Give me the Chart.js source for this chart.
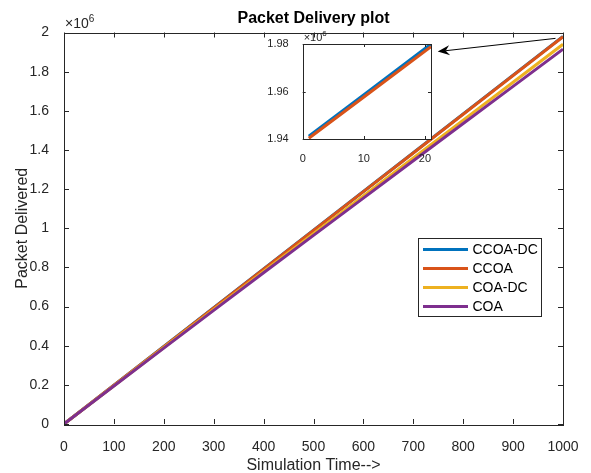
<!DOCTYPE html>
<html>
<head>
<meta charset="utf-8">
<script src="https://cdn.jsdelivr.net/npm/chart.js@4"></script>
<style>
 body { margin: 0; background: #fff; }
 #wrap { position: relative; width: 591px; height: 473px; }
 #mainChart { position: absolute; left: 0; top: 0; }
 #insetChart { position: absolute; left: 260px; top: 28px; }
</style>
</head>
<body>
<div id="wrap">
 <canvas id="mainChart" width="591" height="473"></canvas>
 <canvas id="insetChart" width="180" height="135"></canvas>
</div>
<script>
// main plot data (simulation time vs packets delivered)
var simTime = [0, 100, 200, 300, 400, 500, 600, 700, 800, 900, 1000];
var ccoaDc = [0, 198000, 396000, 594000, 792000, 990000, 1188000, 1386000, 1584000, 1782000, 1980000];
var ccoa = [0, 197800, 395600, 593400, 791200, 989000, 1186800, 1384600, 1582400, 1780200, 1978000];
var coaDc = [0, 195500, 390500, 585000, 779000, 972500, 1165500, 1359000, 1552500, 1746000, 1940000];
var coa = [0, 194000, 387500, 580500, 772500, 963500, 1154000, 1344500, 1535000, 1725000, 1915000];
var seriesNames = ["CCOA-DC", "CCOA", "COA-DC", "COA"];

// zoomed inset data
var insetX = [1, 11, 21];
var insetCcoaDc = [1941200, 1960600, 1980000];
var insetCcoa = [1940300, 1959600, 1978900];

var colors = ["#0072BD", "#D95319", "#EDB120", "#7E2F8E"];
var axisColor = "#262626";
var fontName = "'Liberation Sans', Arial, Helvetica, sans-serif";

function toPoints(xs, ys) {
 return xs.map(function (x, i) {
  return { x: x, y: ys[i] };
 });
}

// MATLAB style box with inward ticks on all four sides
function boxPlugin(tickLen, lineW) {
 return {
  id: "matlabBox",
  beforeDraw: function (chart) {
   var a = chart.chartArea;
   var ctx = chart.ctx;
   ctx.save();
   ctx.fillStyle = "#fff";
   ctx.fillRect(a.left, a.top, a.right - a.left, a.bottom - a.top);
   ctx.restore();
  },
  afterDatasetsDraw: function (chart) {
   var a = chart.chartArea;
   var ctx = chart.ctx;
   var xs = chart.scales.x;
   var ys = chart.scales.y;
   ctx.save();
   ctx.strokeStyle = axisColor;
   ctx.lineWidth = lineW;
   ctx.beginPath();
   xs.ticks.forEach(function (t) {
    var px = Math.round(xs.getPixelForValue(t.value)) + 0.5;
    ctx.moveTo(px, a.bottom);
    ctx.lineTo(px, a.bottom - tickLen);
    ctx.moveTo(px, a.top);
    ctx.lineTo(px, a.top + tickLen);
   });
   ys.ticks.forEach(function (t) {
    var py = Math.round(ys.getPixelForValue(t.value)) + 0.5;
    ctx.moveTo(a.left, py);
    ctx.lineTo(a.left + tickLen, py);
    ctx.moveTo(a.right, py);
    ctx.lineTo(a.right - tickLen, py);
   });
   ctx.stroke();
   ctx.strokeRect(Math.round(a.left) + 0.5, Math.round(a.top) + 0.5,
    Math.round(a.right - a.left), Math.round(a.bottom - a.top));
   ctx.restore();
  },
 };
}

function drawExponent(ctx, x, y, size) {
 ctx.save();
 ctx.fillStyle = axisColor;
 ctx.textBaseline = "alphabetic";
 ctx.textAlign = "left";
 ctx.font = size + "px " + fontName;
 ctx.fillText("\u00d710", x, y);
 var w = ctx.measureText("\u00d710").width;
 ctx.font = Math.round(size * 0.7) + "px " + fontName;
 ctx.fillText("6", x + w, y - size * 0.45);
 ctx.restore();
}

// ---------------- inset ----------------
var insetCanvas = document.querySelector("#insetChart");
var insetChart = new Chart(insetCanvas, {
 type: "line",
 data: {
  datasets: [
   { label: seriesNames[0], data: toPoints(insetX, insetCcoaDc), borderColor: colors[0], order: 1 },
   { label: seriesNames[1], data: toPoints(insetX, insetCcoa), borderColor: colors[1], order: 0 },
  ],
 },
 options: {
  responsive: false,
  animation: false,
  events: [],
  layout: { padding: { left: 0, top: 16, right: 9, bottom: 0 } },
  elements: {
   line: { borderWidth: 3, tension: 0, borderCapStyle: "butt" },
   point: { radius: 0 },
  },
  plugins: { legend: { display: false }, title: { display: false }, tooltip: { enabled: false } },
  scales: {
   x: {
    type: "linear",
    min: 0,
    max: 21,
    grid: { display: false },
    border: { display: false },
    ticks: { stepSize: 10, includeBounds: false, padding: 5, color: axisColor, maxRotation: 0,
     font: { family: fontName, size: 11 },
     callback: function (v) { return String(v); } },
    afterFit: function (s) { s.height = 24; s.paddingLeft = 0; s.paddingRight = 0; },
   },
   y: {
    min: 1940000,
    max: 1980000,
    grid: { display: false },
    border: { display: false },
    ticks: { stepSize: 20000, padding: 6, color: axisColor,
     font: { family: fontName, size: 11 },
     callback: function (v) { return (v / 1e6).toFixed(2); } },
    afterFit: function (s) { s.width = 42.7; s.paddingTop = 0; s.paddingBottom = 0; },
   },
  },
 },
 plugins: [
  boxPlugin(3, 1),
  {
   id: "insetExp",
   afterDraw: function (chart) {
    drawExponent(chart.ctx, chart.chartArea.left + 1, chart.chartArea.top - 3.5, 11);
   },
  },
 ],
});

// ---------------- main plot ----------------
var insetLeft = 260;
var insetTop = 28;

var mainDatasets = [ccoaDc, ccoa, coaDc, coa].map(function (vals, i) {
 return {
  label: seriesNames[i],
  data: toPoints(simTime, vals),
  borderColor: colors[i],
  order: 3 - i,
 };
});

var mainCanvas = document.querySelector("#mainChart");
new Chart(mainCanvas, {
 type: "line",
 data: { datasets: mainDatasets },
 options: {
  responsive: false,
  animation: false,
  events: [],
  layout: { padding: { left: 0, top: 32.5, right: 28, bottom: 0 } },
  elements: {
   line: { borderWidth: 3, tension: 0, borderCapStyle: "butt" },
   point: { radius: 0 },
  },
  plugins: { legend: { display: false }, title: { display: false }, tooltip: { enabled: false } },
  scales: {
   x: {
    type: "linear",
    min: 0,
    max: 1000,
    grid: { display: false },
    border: { display: false },
    ticks: { stepSize: 100, padding: 7, color: axisColor, maxRotation: 0,
     font: { family: fontName, size: 14 },
     callback: function (v) { return String(v); } },
    afterFit: function (s) { s.height = 49; s.paddingLeft = 0; s.paddingRight = 0; },
   },
   y: {
    min: 0,
    max: 2000000,
    grid: { display: false },
    border: { display: false },
    ticks: { stepSize: 200000, padding: 7, color: axisColor,
     font: { family: fontName, size: 14 },
     callback: function (v) { return String(Math.round(v / 1e5) / 10); } },
    afterFit: function (s) { s.width = 64; s.paddingTop = 0; s.paddingBottom = 0; },
   },
  },
 },
 plugins: [
  boxPlugin(5, 1),
  {
   id: "mainText",
   afterDraw: function (chart) {
    var ctx = chart.ctx;
    var a = chart.chartArea;
    var cx = (a.left + a.right) / 2;
    ctx.save();
    // title
    ctx.fillStyle = "#000";
    ctx.textAlign = "center";
    ctx.textBaseline = "alphabetic";
    ctx.font = "bold 16px " + fontName;
    ctx.fillText("Packet Delivery plot", cx, 23);
    // axis labels
    ctx.fillStyle = axisColor;
    ctx.font = "16px " + fontName;
    ctx.fillText("Simulation Time-->", cx, 469.5);
    ctx.translate(27, (a.top + a.bottom) / 2);
    ctx.rotate(-Math.PI / 2);
    ctx.fillText("Packet Delivered", 0, 0);
    ctx.restore();

    drawExponent(ctx, a.left + 1, a.top - 4.5, 14);

    // legend
    var lx = 418.5, ly = 238.5, lw = 123, lh = 78;
    ctx.save();
    ctx.fillStyle = "#fff";
    ctx.fillRect(lx, ly, lw, lh);
    ctx.strokeStyle = axisColor;
    ctx.lineWidth = 1;
    ctx.strokeRect(lx, ly, lw, lh);
    ctx.font = "14px " + fontName;
    ctx.textAlign = "left";
    ctx.textBaseline = "middle";
    chart.data.datasets.forEach(function (ds, i) {
     var rowY = 249.5 + i * 19;
     ctx.strokeStyle = ds.borderColor;
     ctx.lineWidth = 3;
     ctx.beginPath();
     ctx.moveTo(423, rowY);
     ctx.lineTo(468, rowY);
     ctx.stroke();
     ctx.fillStyle = "#000";
     ctx.fillText(ds.label, 472.5, rowY + 0.5);
    });
    ctx.restore();

    // arrow from the end of the curves to the inset
    var sx = chart.scales.x.getPixelForValue(985);
    var sy = chart.scales.y.getPixelForValue(1970000);
    var ex = insetLeft + insetChart.scales.x.getPixelForValue(22.1);
    var ey = insetTop + insetChart.scales.y.getPixelForValue(1976800);
    var ang = Math.atan2(ey - sy, ex - sx);
    var hl = 12, hw = 5, notch = 8;
    ctx.save();
    ctx.strokeStyle = "#000";
    ctx.fillStyle = "#000";
    ctx.lineWidth = 1;
    ctx.beginPath();
    ctx.moveTo(sx, sy);
    ctx.lineTo(ex - Math.cos(ang) * notch, ey - Math.sin(ang) * notch);
    ctx.stroke();
    ctx.translate(ex, ey);
    ctx.rotate(ang);
    ctx.beginPath();
    ctx.moveTo(0, 0);
    ctx.lineTo(-hl, -hw);
    ctx.lineTo(-notch, 0);
    ctx.lineTo(-hl, hw);
    ctx.closePath();
    ctx.fill();
    ctx.restore();
   },
  },
 ],
});
</script>
</body>
</html>
